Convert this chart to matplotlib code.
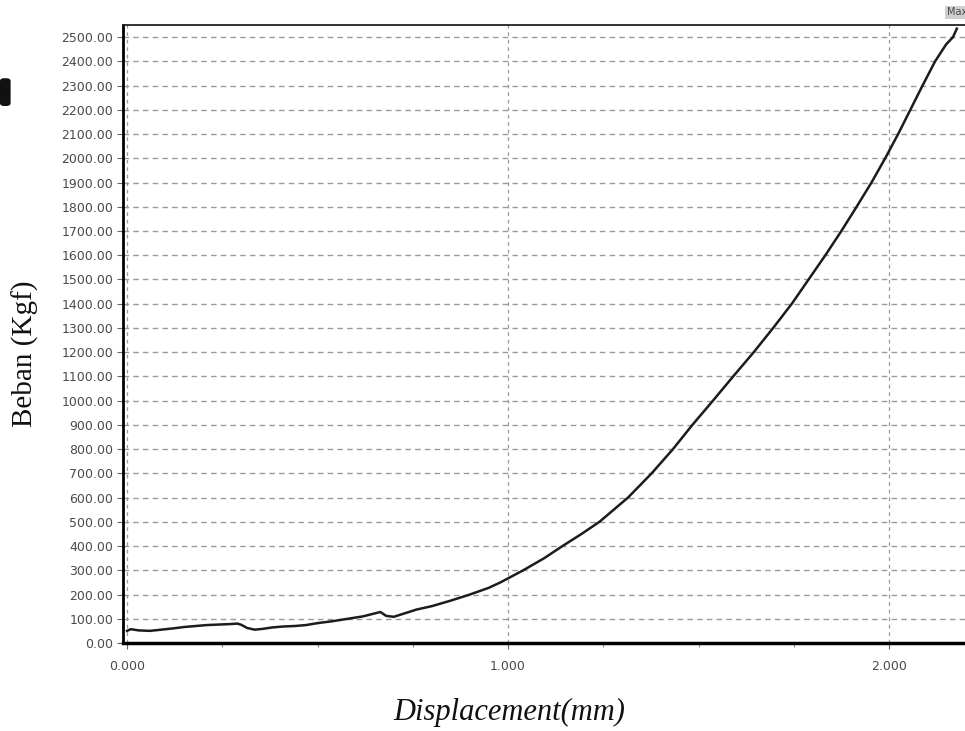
import matplotlib
matplotlib.use("Agg")
import matplotlib.pyplot as plt
from matplotlib.patches import FancyBboxPatch
from matplotlib.ticker import FixedLocator

# Load–displacement record of the test
displacement_mm = [
    0.000, 0.010, 0.030, 0.060, 0.090, 0.120, 0.150, 0.180, 0.210, 0.240,
    0.270, 0.290, 0.300, 0.315, 0.335, 0.355, 0.380, 0.410, 0.440, 0.470,
    0.500, 0.540, 0.580, 0.620, 0.650, 0.665, 0.680, 0.700, 0.720, 0.760,
    0.800, 0.850, 0.900, 0.950, 0.980, 1.040, 1.095, 1.143, 1.193, 1.240,
    1.315, 1.377, 1.433, 1.484, 1.538, 1.591, 1.645, 1.696, 1.745, 1.789,
    1.833, 1.875, 1.915, 1.954, 1.990, 2.024, 2.056, 2.088, 2.121, 2.150,
    2.168, 2.178,
]
load_kgf = [
    50, 57, 52, 50, 55, 60, 66, 70, 74, 76,
    78, 80, 75, 62, 55, 58, 64, 68, 70, 74,
    82, 90, 100, 110, 122, 128, 112, 108, 118, 138,
    152, 175, 200, 228, 250, 300, 350, 400, 450, 500,
    600, 700, 800, 900, 1000, 1100, 1200, 1300, 1400, 1500,
    1600, 1700, 1800, 1900, 2000, 2100, 2200, 2300, 2400, 2470,
    2500, 2535,
]

y_ticks = list(range(0, 2501, 100))
y_tick_labels = [f"{v:.2f}" for v in y_ticks]
x_ticks = [0.0, 1.0, 2.0]
x_tick_labels = [f"{v:.3f}" for v in x_ticks]
x_minor_ticks = [0.25, 0.5, 0.75, 1.25, 1.5, 1.75]

fig = plt.figure(figsize=(9.65, 7.31), dpi=100)
ax = fig.add_axes([0.1275, 0.1204, 0.8725, 0.8454])

ax.plot(displacement_mm, load_kgf, color="#1c1c1c", linewidth=1.8,
        solid_joinstyle="round", zorder=3)

ax.set_xlim(-0.0105, 2.1995)
ax.set_ylim(0, 2550)

ax.set_yticks(y_ticks)
ax.set_yticklabels(y_tick_labels)
ax.set_xticks(x_ticks)
ax.set_xticklabels(x_tick_labels)
ax.xaxis.set_minor_locator(FixedLocator(x_minor_ticks))

ax.tick_params(axis="y", which="major", direction="out", length=4, width=0.8,
               colors="#666666", labelsize=9, pad=3, labelcolor="#4a4a4a")
ax.tick_params(axis="x", which="major", direction="out", length=4, width=0.8,
               colors="#666666", labelsize=9, pad=8, labelcolor="#4a4a4a")
ax.tick_params(axis="x", which="minor", direction="out", length=3, width=0.8,
               colors="#888888")

# Dashed grid: horizontal at every 100 kgf, vertical at each whole millimetre
ax.grid(True, axis="y", which="major", color="#9a9a9a", linewidth=1.0,
        linestyle=(0, (4, 3)))
ax.grid(True, axis="x", which="major", color="#9a9a9a", linewidth=0.9,
        linestyle=(0, (3, 3)))
ax.set_axisbelow(True)

for side in ("left", "bottom"):
    ax.spines[side].set_color("black")
ax.spines["left"].set_linewidth(2.0)
ax.spines["bottom"].set_linewidth(2.5)
ax.spines["top"].set_linewidth(1.3)
ax.spines["top"].set_color("#222222")
ax.spines["right"].set_visible(False)

fig.text(0.026, 0.516, "Beban (Kgf)", rotation=90, ha="center", va="center",
         fontsize=21, family="Liberation Serif", color="#111111")
fig.text(0.528, 0.026, "Displacement(mm)", ha="center", va="center",
         fontsize=22, family="Liberation Serif", style="italic",
         color="#111111")

# Peak marker tag
fig.text(0.981, 0.983, "Max", ha="left", va="center", fontsize=7,
         color="#444444",
         bbox=dict(boxstyle="square,pad=0.15", facecolor="#cfcfcf",
                   edgecolor="none"))

# Small dark mark at the left edge
fig.patches.append(FancyBboxPatch((0.0, 0.855), 0.011, 0.038,
                                  boxstyle="round,pad=0,rounding_size=0.004",
                                  transform=fig.transFigure,
                                  facecolor="#111111", edgecolor="none"))

fig.savefig("out.png", dpi=100)
